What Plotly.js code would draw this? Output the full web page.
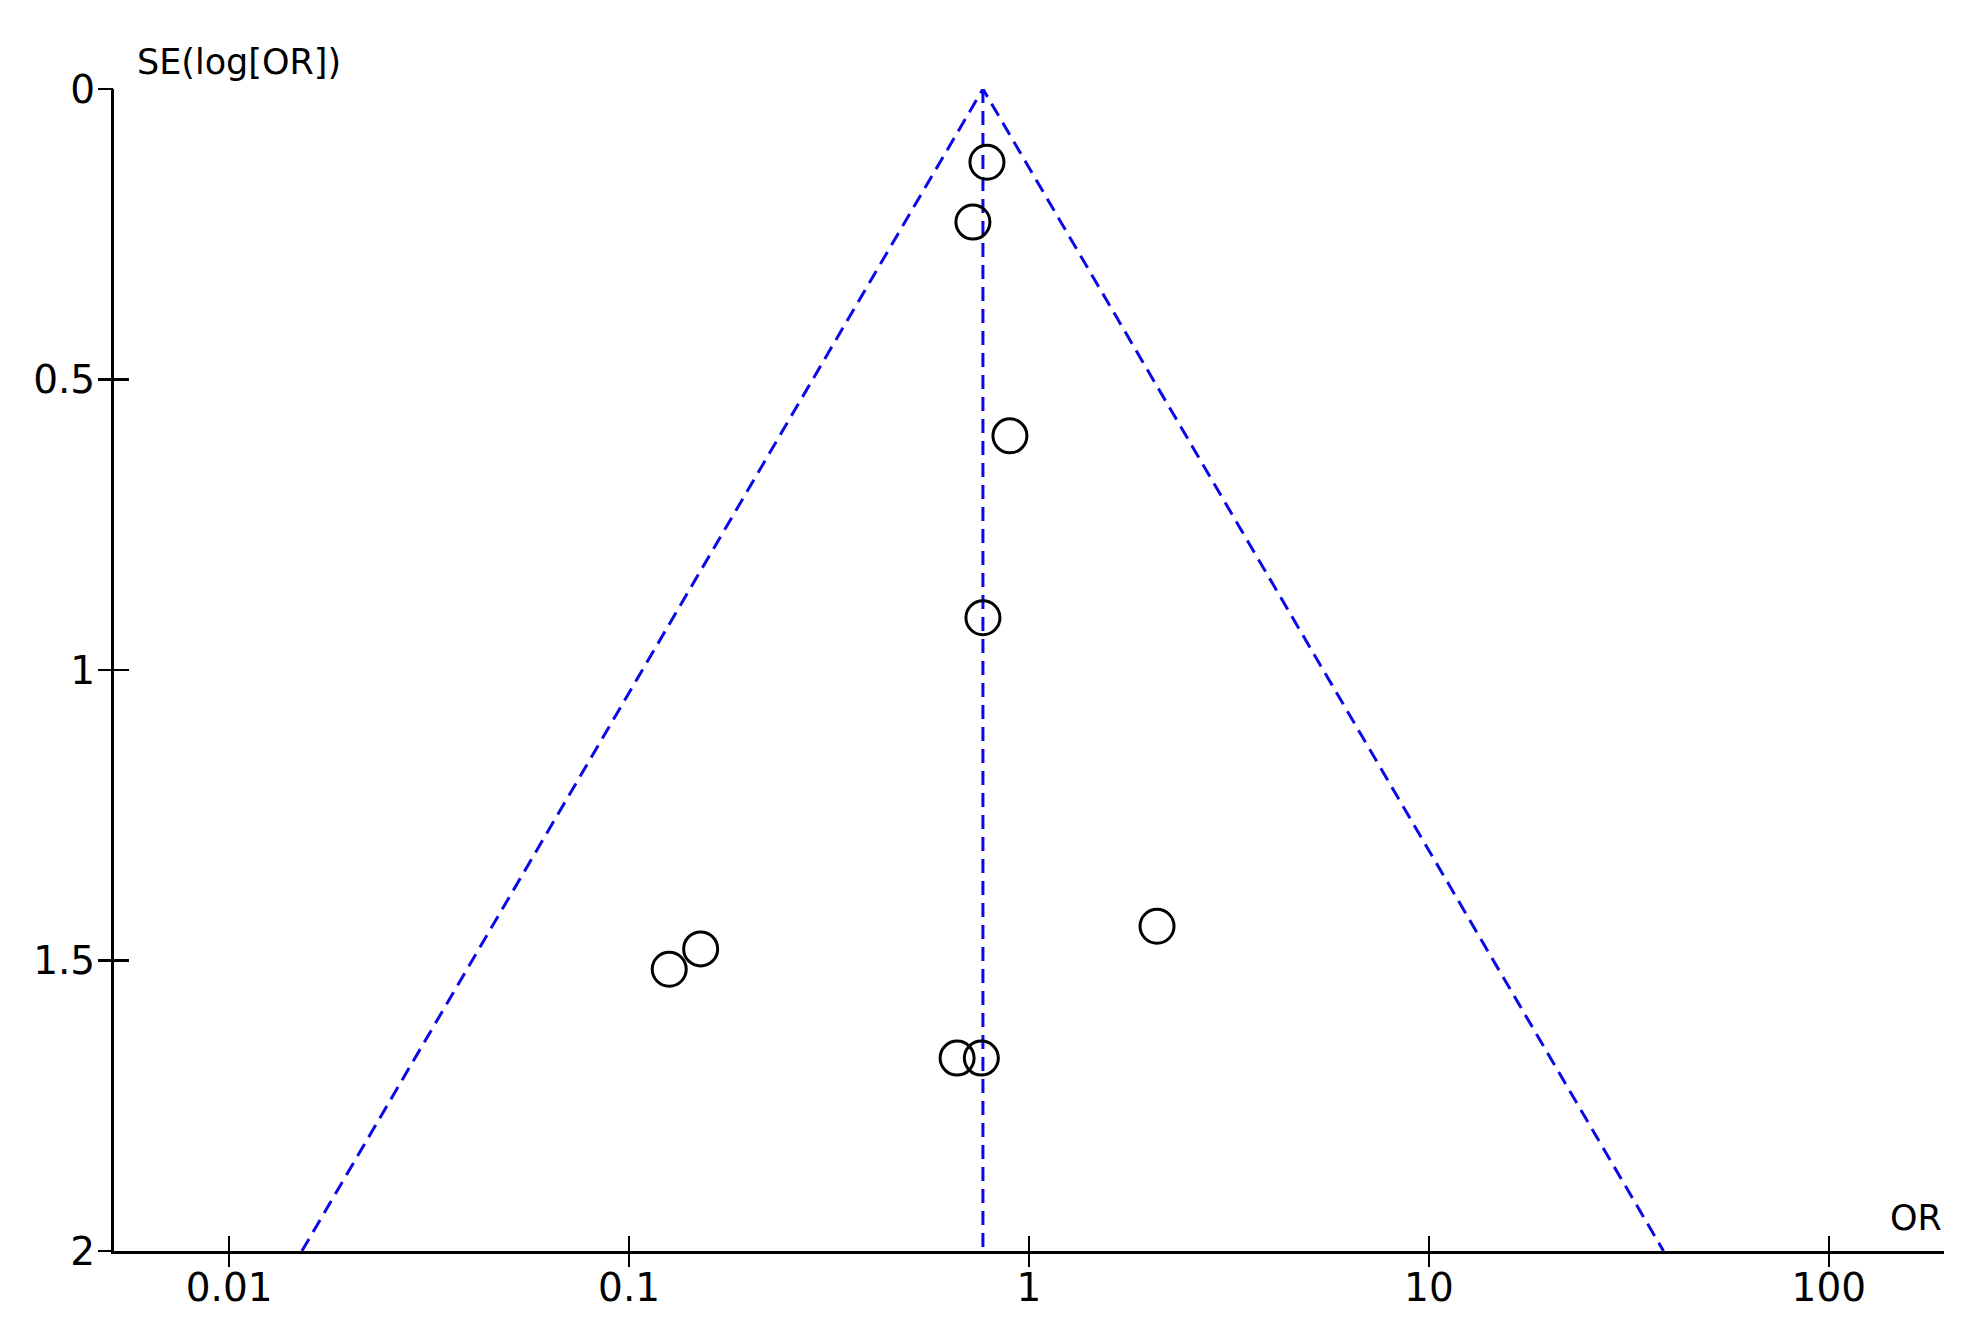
<!DOCTYPE html>
<html>
<head>
<meta charset="utf-8">
<script src="https://cdn.plot.ly/plotly-3.0.1.min.js"></script>
<style>
  html, body { margin: 0; padding: 0; background: #fff; }
  #funnel { width: 1963px; height: 1332px; }
</style>
</head>
<body>
<div id="funnel"></div>
<script>
// study estimates
var studyOR = [0.785, 0.724, 0.896, 0.767, 2.09, 0.151, 0.126, 0.661, 0.760];
var studySE = [0.126, 0.229, 0.597, 0.910, 1.441, 1.480, 1.515, 1.668, 1.668];

// pooled estimate and 95% pseudo-confidence limits
var pooledOR = [0.767, 0.767];
var pooledSE = [0, 2];
var funnelOR = [0.0152, 0.767, 38.6];
var funnelSE = [2, 0, 2];

var xTicks = [0.01, 0.1, 1, 10, 100];
var xTickText = ['0.01', '0.1', '1', '10', '100'];
var yTicks = [0, 0.5, 1, 1.5, 2];
var yTickText = ['0', '0.5', '1', '1.5', '2'];

var xRange = [-2.288, 2.288];
var yRange = [2, 0];

var dashLine = { color: '#0a0ae6', width: 3, dash: '14px,8px' };

var funnel = {
  x: funnelOR,
  y: funnelSE,
  mode: 'lines',
  line: dashLine,
  xaxis: 'x2',
  yaxis: 'y2',
  hoverinfo: 'skip'
};

var pooled = {
  x: pooledOR,
  y: pooledSE,
  mode: 'lines',
  line: dashLine,
  hoverinfo: 'skip'
};

var studies = {
  x: studyOR,
  y: studySE,
  mode: 'markers',
  marker: {
    symbol: 'circle-open',
    size: 34,
    color: '#000',
    line: { color: '#000', width: 3 }
  }
};

var tickFont = { family: 'DejaVu Sans', size: 39, color: '#000' };

var layout = {
  width: 1963,
  height: 1332,
  margin: { l: 114, r: 19, t: 89, b: 81 },
  plot_bgcolor: '#fff',
  paper_bgcolor: '#fff',
  showlegend: false,
  font: tickFont,
  // labelled axes carry the inner half of each crossing tick
  xaxis: {
    type: 'log',
    range: xRange,
    tickvals: xTicks,
    ticktext: xTickText,
    ticks: 'inside',
    ticklen: 15,
    tickwidth: 2.5,
    tickcolor: '#000',
    ticklabelstandoff: 0,
    showline: true,
    linewidth: 3,
    linecolor: '#000',
    showgrid: false,
    zeroline: false,
    tickfont: tickFont
  },
  yaxis: {
    range: yRange,
    tickvals: yTicks,
    ticktext: yTickText,
    ticks: 'inside',
    ticklen: 15,
    tickwidth: 2.5,
    tickcolor: '#000',
    ticklabelstandoff: 8,
    showline: true,
    linewidth: 3,
    linecolor: '#000',
    showgrid: false,
    zeroline: false,
    tickfont: tickFont
  },
  // outer halves of the crossing tick marks
  xaxis2: {
    type: 'log',
    range: xRange,
    overlaying: 'x',
    anchor: 'y2',
    tickvals: xTicks,
    ticks: 'outside',
    ticklen: 15,
    tickwidth: 2.5,
    tickcolor: '#000',
    showticklabels: false,
    showline: false,
    showgrid: false,
    zeroline: false
  },
  yaxis2: {
    range: yRange,
    overlaying: 'y',
    anchor: 'x2',
    side: 'left',
    tickvals: yTicks,
    ticks: 'outside',
    ticklen: 15,
    tickwidth: 2.5,
    tickcolor: '#000',
    showticklabels: false,
    showline: false,
    showgrid: false,
    zeroline: false
  },
  annotations: [
    {
      text: 'SE(log[OR])',
      xref: 'paper', yref: 'paper',
      x: 0.0115, y: 1.023,
      xanchor: 'left', yanchor: 'middle',
      showarrow: false,
      font: { family: 'DejaVu Sans', size: 35, color: '#000' }
    },
    {
      text: 'OR',
      xref: 'paper', yref: 'paper',
      x: 1, y: 0.028,
      xanchor: 'right', yanchor: 'middle',
      showarrow: false,
      font: { family: 'DejaVu Sans', size: 35, color: '#000' }
    }
  ]
};

Plotly.newPlot('funnel', [funnel, pooled, studies], layout, { displayModeBar: false, staticPlot: true });
</script>
</body>
</html>
